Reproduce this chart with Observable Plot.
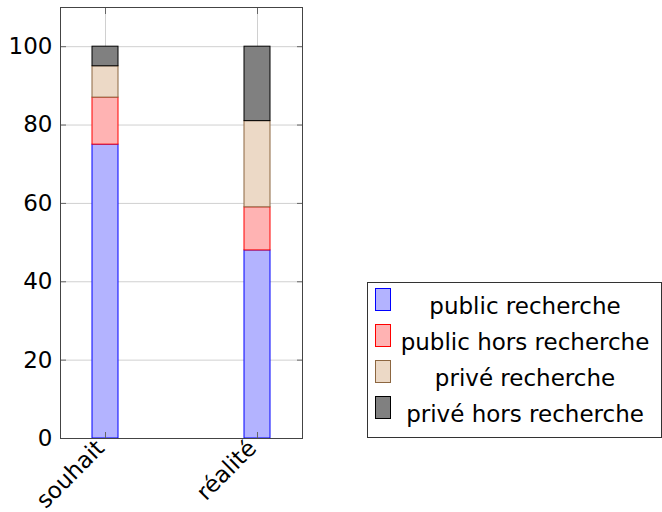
<!DOCTYPE html>
<html>
<head>
<meta charset="utf-8">
<script src="https://cdn.jsdelivr.net/npm/d3@7"></script>
<script src="https://cdn.jsdelivr.net/npm/@observablehq/plot@0.6"></script>
<style>
  body { margin: 0; background: white; }
  #wrap { position: relative; width: 662px; height: 512px; font-family: "DejaVu Sans", sans-serif; }
  #legend { position: absolute; left: 367px; top: 282px; width: 295px; height: 156px; box-sizing: border-box;
            border: 1px solid #333; padding-top: 5px; background: white; font-size: 23px; color: black; }
  .row { position: relative; height: 36px; }
  .sw { position: absolute; left: 7px; top: 0; width: 16px; height: 23px; box-sizing: border-box; border: 1px solid; }
  .lab { position: absolute; left: 25px; width: 264px; text-align: center; line-height: 36px; top: 0; white-space: nowrap; }
</style>
</head>
<body>
<div id="wrap"></div>
<script>
const categories = ["souhait", "réalité"];
const series = ["public recherche", "public hors recherche", "privé recherche", "privé hors recherche"];
const publicRecherche = [75, 48];
const publicHorsRecherche = [12, 11];
const priveRecherche = [8, 22];
const priveHorsRecherche = [5, 19];
const yTicks = [0, 20, 40, 60, 80, 100];
const fills = ["#b3b3ff", "#ffb3b3", "#ecd9c6", "#808080"];
const strokes = ["#0000ff", "#ff0000", "#8c6640", "#000000"];

const seriesValues = [publicRecherche, publicHorsRecherche, priveRecherche, priveHorsRecherche];
const data = [];
categories.forEach((c, i) => series.forEach((s, j) => data.push({cat: c, series: s, idx: j, value: seriesValues[j][i]})));

const chart = Plot.plot({
  width: 662, height: 512,
  marginLeft: 60, marginRight: 360, marginTop: 7, marginBottom: 74,
  style: {fontFamily: "DejaVu Sans", fontSize: "23px", background: "white", color: "black"},
  x: {domain: categories, paddingInner: 0.829, paddingOuter: 0.2105, label: null},
  y: {domain: [0, 110], label: null},
  marks: [
    Plot.gridY(yTicks, {stroke: "#d0d0d0", strokeOpacity: 1}),
    Plot.gridX(categories, {stroke: "#d0d0d0", strokeOpacity: 1}),
    Plot.barY(data, {x: "cat", y: "value", fill: d => fills[d.idx], stroke: d => strokes[d.idx], strokeWidth: 1}),
    Plot.axisY(yTicks, {anchor: "left", tickSize: 0, tickPadding: 8, fontSize: 23, label: null}),
    Plot.axisY(yTicks, {anchor: "left", tickSize: -6, tickFormat: () => "", stroke: "#666", label: null}),
    Plot.axisY(yTicks, {anchor: "right", tickSize: -6, tickFormat: () => "", stroke: "#666", label: null}),
    Plot.axisX(categories, {anchor: "bottom", tickSize: 0, tickPadding: 6, tickRotate: -45, fontSize: 23, dx: -5, dy: 0, label: null}),
    Plot.axisX(categories, {anchor: "bottom", tickSize: -6, tickFormat: () => "", stroke: "#666", label: null}),
    Plot.axisX(categories, {anchor: "top", tickSize: -6, tickFormat: () => "", stroke: "#666", label: null}),
    Plot.frame({stroke: "#444"})
  ]
});
const wrap = document.getElementById("wrap");
wrap.appendChild(chart);

const legend = document.createElement("div");
legend.id = "legend";
series.forEach((s, j) => {
  const row = document.createElement("div");
  row.className = "row";
  const sw = document.createElement("div");
  sw.className = "sw";
  sw.style.background = fills[j];
  sw.style.borderColor = strokes[j];
  const lab = document.createElement("div");
  lab.className = "lab";
  lab.textContent = s;
  row.appendChild(sw);
  row.appendChild(lab);
  legend.appendChild(row);
});
wrap.appendChild(legend);
</script>
</body>
</html>
